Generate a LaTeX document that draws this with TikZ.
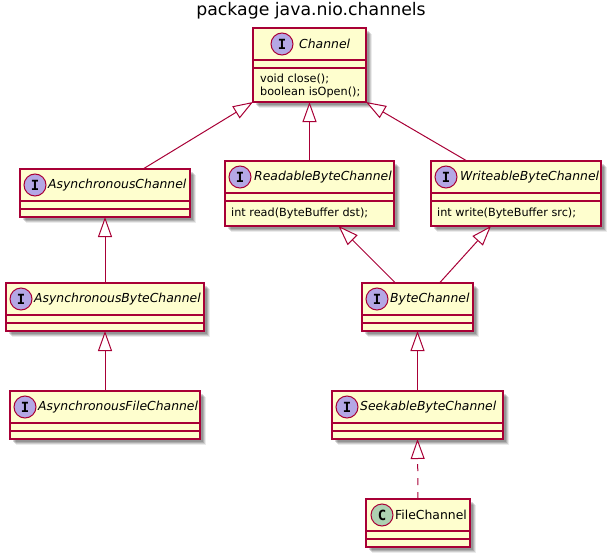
\documentclass[tikz,border=0pt]{standalone}
\usepackage{fontspec}
\setmainfont{DejaVu Sans}
\newfontfamily\glyphfont{DejaVu Sans Mono}
\usetikzlibrary{arrows.meta,shadows,calc}
\definecolor{umlline}{HTML}{A80036}
\definecolor{umlfill}{HTML}{FEFECE}
\definecolor{ifacefill}{HTML}{B4A7E5}
\definecolor{classfill}{HTML}{ADD1B2}
\tikzset{
  softshadow/.style={
    general shadow={shadow xshift=6pt,shadow yshift=-6pt,fill=black,opacity=.08},
    general shadow={shadow xshift=5pt,shadow yshift=-5pt,fill=black,opacity=.12},
    general shadow={shadow xshift=4pt,shadow yshift=-4pt,fill=black,opacity=.15},
    general shadow={shadow xshift=3pt,shadow yshift=-3pt,fill=black,opacity=.15}},
  umlbox/.style={rectangle,draw=umlline,fill=umlfill,line width=1.1pt,inner sep=0pt,outer sep=0pt,softshadow},
  sepline/.style={draw=umlline,line width=1.1pt},
  badge/.style={circle,draw=umlline,line width=1pt,minimum size=22pt,inner sep=0pt,font=\glyphfont\bfseries\fontsize{14}{14}\selectfont},
  iface/.style={badge,fill=ifacefill},
  concrete/.style={badge,fill=classfill},
  absname/.style={anchor=west,inner sep=0pt,font=\itshape\fontsize{12.4}{15}\selectfont},
  plainname/.style={anchor=west,inner sep=0pt,font=\fontsize{12.4}{15}\selectfont},
  memberline/.style={anchor=west,inner sep=0pt,font=\fontsize{11.25}{13}\selectfont},
  inherit/.style={draw=umlline,line width=1pt,-{Triangle[open,length=20pt,width=14pt,fill=white]}},
  realize/.style={inherit,dash pattern=on 7pt off 7pt},
}
% name, x1, y1, x2, y2, first separator y, second separator y
\newcommand{\umlclass}[7]{%
  \node[umlbox,minimum width=#4pt-#2pt,minimum height=#5pt-#3pt] (#1) at ({(#2+#4)/2},{(#3+#5)/2}) {};
  \draw[sepline] (#2,#6) -- (#4,#6);
  \draw[sepline] (#2,#7) -- (#4,#7);
}
\begin{document}
\begin{tikzpicture}[x=1pt,y=-1pt]
\useasboundingbox (0,0) rectangle (611,557);
\node[inner sep=0pt,font=\fontsize{17.3}{20}\selectfont] (title) at (311,11) {package java.nio.channels};

\umlclass{channel}{253}{28}{366}{102}{60}{68}
\umlclass{async}{20}{169}{190}{217}{201}{209}
\umlclass{asyncbyte}{6}{283}{204}{331}{315}{323}
\umlclass{asyncfile}{10}{391}{200}{439}{423}{431}
\umlclass{readable}{225}{161}{394}{226}{193}{201}
\umlclass{writeable}{431}{161}{601}{226}{193}{201}
\umlclass{bytech}{362}{283}{473}{331}{315}{323}
\umlclass{seekable}{332}{391}{503}{439}{423}{431}
\umlclass{filech}{366}{499}{470}{547}{531}{539}

\node[iface] (ichannel) at (282,44) {I};
\node[absname] (tchannel) at (299,44) {Channel};
\node[memberline] (mclose) at (260,79) {void close();};
\node[memberline] (misopen) at (260,92) {boolean isOpen();};

\node[iface] (iasync) at (35,185) {I};
\node[absname] (tasync) at (48,185) {AsynchronousChannel};
\node[iface] (iasyncbyte) at (21,299) {I};
\node[absname] (tasyncbyte) at (34,299) {AsynchronousByteChannel};
\node[iface] (iasyncfile) at (25,407) {I};
\node[absname] (tasyncfile) at (38,407) {AsynchronousFileChannel};
\node[iface] (ireadable) at (240,177) {I};
\node[absname] (treadable) at (254,177) {ReadableByteChannel};
\node[memberline] (mread) at (231,213) {int read(ByteBuffer dst);};
\node[iface] (iwriteable) at (446,177) {I};
\node[absname] (twriteable) at (460,177) {WriteableByteChannel};
\node[memberline] (mwrite) at (437,213) {int write(ByteBuffer src);};
\node[iface] (ibyte) at (377,299) {I};
\node[absname] (tbyte) at (390,299) {ByteChannel};
\node[iface] (iseek) at (347,407) {I};
\node[absname] (tseek) at (360,407) {SeekableByteChannel};
\node[concrete] (cfile) at (382,515) {C};
\node[plainname] (tfile) at (395,515) {FileChannel};

\draw[inherit] ([xshift=38pt]async.north) -- (channel.south west);
\draw[inherit] (readable.north) -- (channel.south);
\draw[inherit] ([xshift=-49pt]writeable.north) -- (channel.south east);
\draw[inherit] (asyncbyte.north) -- (async.south);
\draw[inherit] (asyncfile.north) -- (asyncbyte.south);
\draw[inherit] ([xshift=-22pt]bytech.north) -- ([xshift=29pt]readable.south);
\draw[inherit] ([xshift=22pt]bytech.north) -- ([xshift=-25pt]writeable.south);
\draw[inherit] (seekable.north) -- (bytech.south);
\draw[realize] (filech.north) -- (seekable.south);
\end{tikzpicture}
\end{document}
